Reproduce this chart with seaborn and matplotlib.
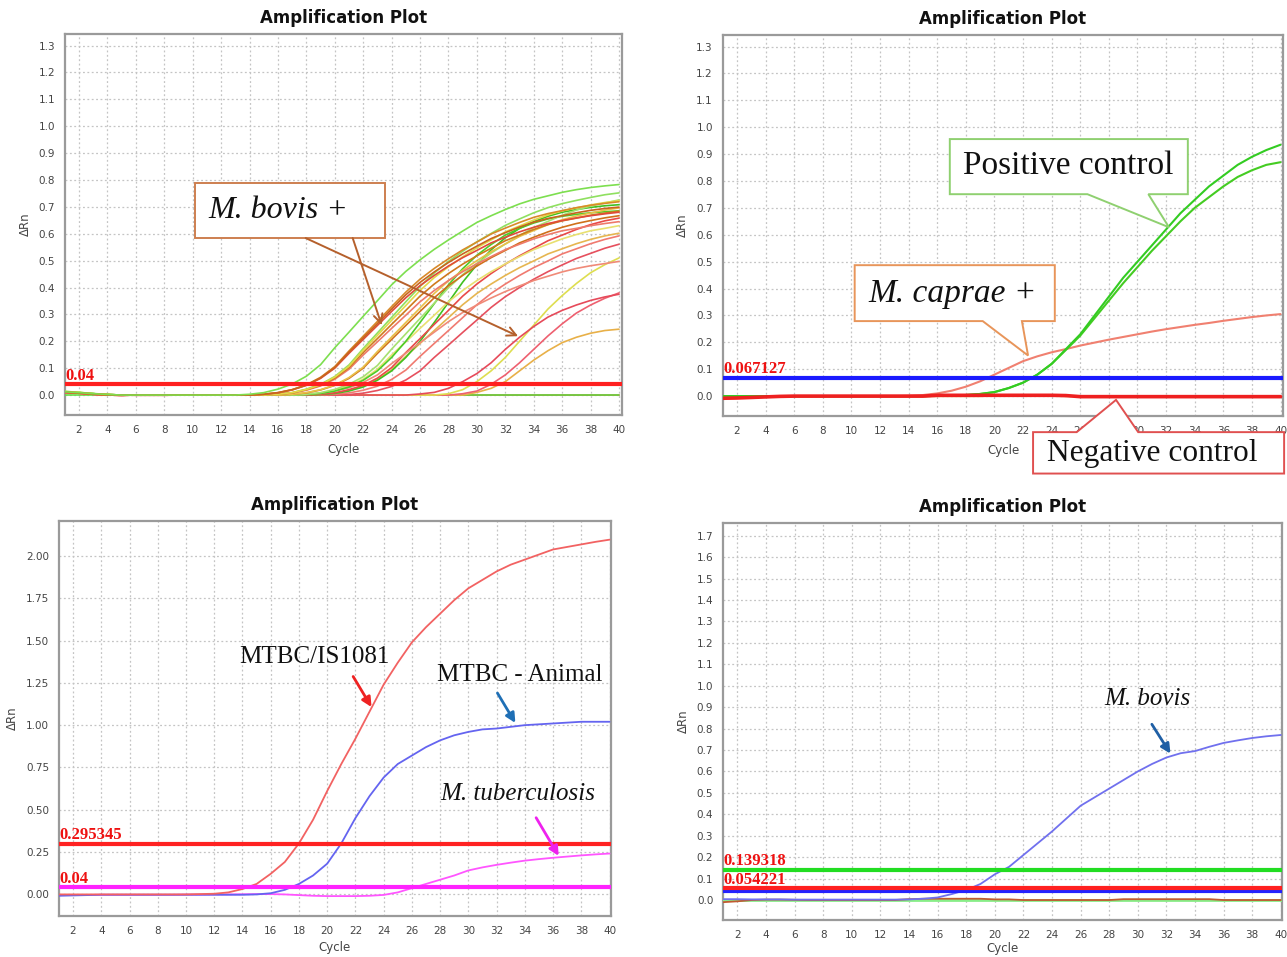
import matplotlib
matplotlib.use("Agg")
import matplotlib.pyplot as plt
from matplotlib.patches import Polygon, Rectangle
import pandas as pd
import seaborn as sns

sns.set_theme(style="whitegrid")
plt.rcParams['font.family'] = ['DejaVu Sans']
SERIF = ['Liberation Serif', 'DejaVu Serif']

cycles = list(range(1, 41))
x_ticks = [2, 4, 6, 8, 10, 12, 14, 16, 18, 20, 22, 24, 26, 28, 30, 32, 34, 36, 38, 40]
ab_yticks = [0.0, 0.1, 0.2, 0.3, 0.4, 0.5, 0.6, 0.7, 0.8, 0.9, 1.0, 1.1, 1.2, 1.3]
c_yticks = [0.0, 0.25, 0.5, 0.75, 1.0, 1.25, 1.5, 1.75, 2.0]
d_yticks = [0.0, 0.1, 0.2, 0.3, 0.4, 0.5, 0.6, 0.7, 0.8, 0.9, 1.0, 1.1, 1.2, 1.3, 1.4, 1.5, 1.6, 1.7]

# ---------------- Panel A : M. bovis + samples ----------------
a_g1 = [0.012, 0.009, 0.005, 0.002, 0.0, 0, 0, 0, 0, 0, 0, 0, 0,
        0.003, 0.009, 0.022, 0.041, 0.070, 0.113, 0.176, 0.234, 0.293, 0.351, 0.410, 0.460, 0.503, 0.542,
        0.577, 0.610, 0.642, 0.667, 0.690, 0.711, 0.728, 0.741, 0.754, 0.764, 0.772, 0.778, 0.783]
a_o1 = [0.011, 0.008, 0.004, 0.001, 0.0, 0, 0, 0, 0, 0, 0, 0, 0, 0,
        0.003, 0.009, 0.020, 0.037, 0.064, 0.103, 0.160, 0.213, 0.266, 0.320, 0.373, 0.419, 0.458,
        0.493, 0.525, 0.554, 0.582, 0.604, 0.625, 0.643, 0.657, 0.667, 0.678, 0.687, 0.694, 0.699]
a_o2 = [0.012, 0.008, 0.004, 0.001, 0.0, 0, 0, 0, 0, 0, 0, 0, 0, 0,
        0.003, 0.009, 0.020, 0.038, 0.066, 0.106, 0.164, 0.219, 0.274, 0.329, 0.383, 0.431, 0.471,
        0.507, 0.540, 0.569, 0.599, 0.621, 0.642, 0.661, 0.675, 0.686, 0.697, 0.706, 0.713, 0.719]
a_r1 = [0.010, 0.007, 0.003, 0.0, -0.001, 0, 0, 0, 0, 0, 0, 0, 0, 0,
        0.003, 0.008, 0.019, 0.036, 0.062, 0.100, 0.155, 0.207, 0.259, 0.311, 0.362, 0.407, 0.445,
        0.480, 0.511, 0.538, 0.566, 0.587, 0.607, 0.624, 0.638, 0.649, 0.659, 0.667, 0.674, 0.680]
a_y1 = [0.013, 0.010, 0.005, 0.002, 0.0, 0, 0, 0, 0, 0, 0, 0, 0, 0, 0,
        0.003, 0.009, 0.021, 0.038, 0.067, 0.107, 0.167, 0.222, 0.278, 0.333, 0.389, 0.437, 0.477,
        0.514, 0.548, 0.577, 0.607, 0.629, 0.651, 0.670, 0.685, 0.696, 0.707, 0.716, 0.723]
a_o3 = [0.011, 0.008, 0.004, 0.001, 0.0, 0, 0, 0, 0, 0, 0, 0, 0, 0, 0,
        0.003, 0.008, 0.020, 0.036, 0.063, 0.102, 0.158, 0.210, 0.263, 0.315, 0.368, 0.413, 0.452,
        0.487, 0.518, 0.546, 0.574, 0.595, 0.616, 0.634, 0.648, 0.658, 0.669, 0.677, 0.684]
a_g2 = [0.014, 0.010, 0.006, 0.002, 0.0, 0, 0, 0, 0, 0, 0, 0, 0, 0, 0,
        0.003, 0.009, 0.022, 0.040, 0.069, 0.112, 0.173, 0.231, 0.289, 0.347, 0.404, 0.454, 0.497,
        0.535, 0.570, 0.601, 0.631, 0.655, 0.678, 0.697, 0.712, 0.724, 0.735, 0.745, 0.752]
a_r2 = [0.010, 0.007, 0.003, 0.0, -0.001, 0, 0, 0, 0, 0, 0, 0, 0, 0, 0,
        0.003, 0.008, 0.018, 0.034, 0.059, 0.096, 0.149, 0.198, 0.248, 0.297, 0.347, 0.389, 0.426,
        0.459, 0.488, 0.515, 0.541, 0.561, 0.581, 0.597, 0.611, 0.620, 0.630, 0.638, 0.645]
a_y2 = [0.012, 0.009, 0.005, 0.002, 0.0, 0, 0, 0, 0, 0, 0, 0, 0, 0, 0, 0,
        0.003, 0.009, 0.020, 0.037, 0.065, 0.104, 0.162, 0.216, 0.270, 0.324, 0.378, 0.425, 0.464,
        0.500, 0.533, 0.562, 0.590, 0.612, 0.634, 0.652, 0.666, 0.677, 0.688, 0.696]
a_o4 = [0.011, 0.008, 0.004, 0.001, 0.0, 0, 0, 0, 0, 0, 0, 0, 0, 0, 0, 0,
        0.003, 0.008, 0.019, 0.036, 0.062, 0.100, 0.155, 0.207, 0.259, 0.311, 0.362, 0.407, 0.445,
        0.480, 0.511, 0.538, 0.566, 0.587, 0.607, 0.624, 0.638, 0.649, 0.659, 0.667]
a_g3 = [0.013, 0.010, 0.005, 0.002, 0.0, 0, 0, 0, 0, 0, 0, 0, 0, 0, 0, 0, 0,
        0.003, 0.009, 0.021, 0.040, 0.068, 0.110, 0.171, 0.228, 0.285, 0.342, 0.399, 0.448, 0.490,
        0.528, 0.562, 0.593, 0.623, 0.646, 0.669, 0.688, 0.703, 0.714, 0.726]
a_g4 = [0.012, 0.009, 0.005, 0.002, 0.0, 0, 0, 0, 0, 0, 0, 0, 0, 0, 0, 0, 0,
        0.002, 0.006, 0.015, 0.030, 0.055, 0.090, 0.140, 0.200, 0.270, 0.340, 0.410, 0.470, 0.520,
        0.560, 0.595, 0.620, 0.640, 0.655, 0.665, 0.672, 0.678, 0.682, 0.685]
a_y3 = [0.011, 0.008, 0.004, 0.001, 0.0, 0, 0, 0, 0, 0, 0, 0, 0, 0, 0, 0, 0,
        0.003, 0.008, 0.018, 0.034, 0.059, 0.096, 0.149, 0.198, 0.248, 0.297, 0.347, 0.389, 0.426,
        0.459, 0.488, 0.515, 0.541, 0.561, 0.581, 0.597, 0.611, 0.620, 0.630]
a_s1 = [0.010, 0.007, 0.003, 0.0, -0.001, 0, 0, 0, 0, 0, 0, 0, 0, 0, 0, 0, 0,
        0.002, 0.006, 0.015, 0.027, 0.047, 0.075, 0.117, 0.156, 0.195, 0.234, 0.273, 0.307, 0.335,
        0.361, 0.385, 0.406, 0.426, 0.442, 0.458, 0.471, 0.481, 0.489, 0.497]
a_r3 = [0.010, 0.007, 0.003, 0.0, -0.001, 0, 0, 0, 0, 0, 0, 0, 0, 0, 0, 0, 0, 0,
        0.003, 0.008, 0.020, 0.036, 0.063, 0.102, 0.158, 0.210, 0.263, 0.315, 0.368, 0.413, 0.452,
        0.487, 0.518, 0.546, 0.574, 0.595, 0.616, 0.634, 0.648, 0.658]
a_g5 = [0.012, 0.009, 0.005, 0.002, 0.0, 0, 0, 0, 0, 0, 0, 0, 0, 0, 0, 0, 0, 0,
        0.002, 0.006, 0.015, 0.030, 0.055, 0.090, 0.140, 0.200, 0.270, 0.345, 0.420, 0.485, 0.540,
        0.585, 0.620, 0.645, 0.665, 0.680, 0.690, 0.698, 0.704, 0.708]
a_y4 = [0.011, 0.008, 0.004, 0.001, 0.0, 0, 0, 0, 0, 0, 0, 0, 0, 0, 0, 0, 0, 0,
        0.003, 0.008, 0.018, 0.033, 0.058, 0.093, 0.144, 0.192, 0.240, 0.288, 0.336, 0.378, 0.413,
        0.445, 0.474, 0.499, 0.525, 0.544, 0.563, 0.579, 0.592, 0.602]
a_r4 = [0.010, 0.007, 0.003, 0.0, -0.001, 0, 0, 0, 0, 0, 0, 0, 0, 0, 0, 0, 0, 0, 0,
        0.003, 0.008, 0.018, 0.033, 0.058, 0.093, 0.144, 0.192, 0.240, 0.288, 0.336, 0.378, 0.413,
        0.445, 0.474, 0.499, 0.525, 0.544, 0.563, 0.579, 0.592]
a_r5 = [0.010, 0.007, 0.003, 0.0, -0.001, 0, 0, 0, 0, 0, 0, 0, 0, 0, 0, 0, 0, 0, 0, 0,
        0.002, 0.007, 0.017, 0.032, 0.056, 0.090, 0.140, 0.186, 0.233, 0.279, 0.326, 0.366, 0.400,
        0.431, 0.459, 0.484, 0.508, 0.527, 0.546, 0.561]
a_l1 = [0.010, 0.007, 0.004, 0.001, 0.0, 0, 0, 0, 0, 0, 0, 0, 0, 0, 0, 0, 0, 0, 0, 0, 0, 0, 0, 0, 0,
        0.004, 0.010, 0.025, 0.050, 0.080, 0.120, 0.170, 0.215, 0.255, 0.290, 0.315, 0.335, 0.352,
        0.365, 0.375]
a_l2 = [0.010, 0.007, 0.004, 0.001, 0.0, 0, 0, 0, 0, 0, 0, 0, 0, 0, 0, 0, 0, 0, 0, 0, 0, 0, 0, 0, 0, 0, 0,
        0.005, 0.020, 0.050, 0.090, 0.140, 0.200, 0.260, 0.320, 0.370, 0.415, 0.455, 0.485, 0.510]
a_l3 = [0.010, 0.007, 0.004, 0.001, 0.0, 0, 0, 0, 0, 0, 0, 0, 0, 0, 0, 0, 0, 0, 0, 0, 0, 0, 0, 0, 0, 0, 0, 0,
        0.005, 0.015, 0.040, 0.075, 0.120, 0.170, 0.220, 0.265, 0.305, 0.335, 0.360, 0.380]
a_l4 = [0.010, 0.007, 0.004, 0.001, 0.0, 0, 0, 0, 0, 0, 0, 0, 0, 0, 0, 0, 0, 0, 0, 0, 0, 0, 0, 0, 0, 0, 0, 0, 0,
        0.010, 0.025, 0.050, 0.090, 0.130, 0.165, 0.195, 0.215, 0.230, 0.240, 0.245]
a_flat_g = [0, 0, 0, 0, 0, 0, 0, 0, 0, 0, 0, 0, 0, 0, 0, 0, 0, 0, 0, 0,
            0, 0, 0, 0, 0, 0, 0, 0, 0, 0, 0, 0, 0, 0, 0, 0, 0, 0, 0, 0]
a_flat_r = [0.010, 0.008, 0.005, 0.002, 0.0, -0.001, -0.001, -0.001, 0, 0, 0, 0, 0, 0, 0, 0, 0, 0, 0, 0,
            0, 0, 0, 0, 0, 0, 0, 0, 0, 0, 0, 0, 0, 0, 0, 0, 0, 0, 0, 0]
a_threshold = 0.04

# ---------------- Panel B : M. caprae + and controls ----------------
b_pos1 = [0, 0, 0, 0, 0, 0, 0, 0, 0, 0, 0, 0, 0, 0, 0.0, 0.001, 0.002, 0.004, 0.008, 0.015,
          0.030, 0.050, 0.080, 0.120, 0.175, 0.230, 0.300, 0.370, 0.440, 0.500, 0.560, 0.620, 0.680,
          0.730, 0.780, 0.820, 0.860, 0.890, 0.915, 0.935]
b_pos2 = [0, 0, 0, 0, 0, 0, 0, 0, 0, 0, 0, 0, 0, 0, 0.0, 0.001, 0.002, 0.004, 0.008, 0.015,
          0.030, 0.050, 0.080, 0.120, 0.172, 0.225, 0.290, 0.355, 0.420, 0.480, 0.540, 0.595, 0.650,
          0.700, 0.740, 0.780, 0.815, 0.840, 0.860, 0.870]
b_caprae = [0, 0, 0, 0, 0, 0, 0, 0, 0, 0, 0, 0, 0, 0.001, 0.004, 0.010, 0.020, 0.035, 0.055, 0.080,
            0.105, 0.130, 0.148, 0.163, 0.175, 0.188, 0.199, 0.210, 0.220, 0.230, 0.240, 0.249, 0.257,
            0.265, 0.272, 0.280, 0.287, 0.294, 0.300, 0.305]
b_neg1 = [-0.008, -0.007, -0.005, -0.003, -0.001, 0, 0, 0, 0, 0, 0, 0, 0, 0, 0, 0.003, 0.003, 0.003,
          0.003, 0.003, 0.003, 0.003, 0.003, 0.003, 0.002, -0.002, -0.002, -0.002, -0.002, -0.002,
          -0.002, -0.002, -0.002, -0.002, -0.002, -0.002, -0.002, -0.002, -0.002, -0.002]
b_neg2 = [-0.004, -0.003, -0.002, -0.001, 0, 0, 0, 0, 0, 0, 0, 0, 0, 0, 0, 0, 0, 0, 0, 0.002,
          0.004, 0.004, 0.003, 0.001, 0, 0, 0, 0, 0, 0, 0, 0, 0, 0, 0, 0, 0, 0, 0, 0]
b_threshold = 0.067127

# ---------------- Panel C : MTBC / MTBC-Animal / M. tuberculosis ----------------
c_is1081 = [-0.002, -0.002, -0.002, -0.002, -0.002, -0.002, -0.002, -0.002, -0.002, -0.002, 0.0,
            0.002, 0.010, 0.030, 0.060, 0.120, 0.190, 0.300, 0.440, 0.610, 0.770, 0.920, 1.080,
            1.240, 1.370, 1.490, 1.580, 1.660, 1.740, 1.810, 1.860, 1.910, 1.950, 1.980, 2.010,
            2.040, 2.055, 2.070, 2.085, 2.098]
c_animal = [-0.010, -0.008, -0.006, -0.004, -0.004, -0.004, -0.004, -0.004, -0.004, -0.004, -0.004,
            -0.004, -0.004, -0.004, -0.002, 0.005, 0.025, 0.060, 0.110, 0.180, 0.300, 0.450, 0.580,
            0.690, 0.770, 0.820, 0.870, 0.910, 0.940, 0.960, 0.975, 0.980, 0.990, 1.000, 1.005,
            1.010, 1.015, 1.020, 1.020, 1.020]
c_tb = [-0.006, -0.005, -0.005, -0.004, -0.004, -0.004, -0.004, -0.004, -0.004, -0.003, -0.003,
        -0.002, -0.002, -0.001, 0.0, 0.0, -0.002, -0.006, -0.010, -0.012, -0.012, -0.012, -0.010,
        -0.005, 0.010, 0.035, 0.060, 0.085, 0.110, 0.140, 0.158, 0.173, 0.186, 0.198, 0.207,
        0.215, 0.222, 0.229, 0.235, 0.240]
c_threshold_hi = 0.295345
c_threshold_lo = 0.04

# ---------------- Panel D : M. bovis ----------------
d_bovis = [0.004, 0.004, 0.003, 0.003, 0.003, 0.002, 0.002, 0.002, 0.002, 0.002, 0.002, 0.002,
           0.002, 0.003, 0.006, 0.012, 0.028, 0.047, 0.075, 0.120, 0.155, 0.210, 0.265, 0.320,
           0.380, 0.440, 0.480, 0.520, 0.560, 0.600, 0.635, 0.665, 0.685, 0.695, 0.715, 0.733,
           0.745, 0.756, 0.764, 0.770]
d_flat_g = [0, 0, 0, 0, 0, 0, 0, 0, 0, 0, 0, 0, 0, 0, 0, 0, 0, 0, 0, 0,
            0, 0, 0, 0, 0, 0, 0, 0, 0, 0, 0, 0, 0, 0, 0, 0, 0, 0, 0, 0]
d_neg = [-0.010, -0.006, 0.0, 0.002, 0.002, 0.001, 0, 0, 0, 0, 0, 0, 0, 0.004, 0.006, 0.006,
         0.006, 0.006, 0.006, 0.003, 0.003, 0, 0, 0, 0, 0, 0, 0, 0.004, 0.004, 0.004, 0.004,
         0.004, 0.004, 0.004, 0, 0, 0, 0, 0]
d_threshold_g = 0.139318
d_threshold_r = 0.054221
d_threshold_b = 0.042


def long_frame(series):
    rows = []
    for name, vals, _ in series:
        if len(vals) != 40:
            print("length warning", name, len(vals))
        vals = list(vals)[-40:]
        xs = cycles[len(cycles) - len(vals):]
        rows += [(name, x, v) for x, v in zip(xs, vals)]
    return pd.DataFrame(rows, columns=["well", "Cycle", "dRn"])


def draw_curves(ax, series, lw):
    df = long_frame(series)
    pal = {n: c for n, _, c in series}
    sns.lineplot(data=df, x="Cycle", y="dRn", hue="well", hue_order=[n for n, _, _ in series],
                 palette=pal, legend=False, ax=ax, linewidth=lw, estimator=None, zorder=3)


def style(ax, xlim, ylim, yticks, fmt, xlabelpad=6):
    ax.set_facecolor("white")
    ax.set_xlim(*xlim)
    ax.set_ylim(*ylim)
    ax.set_xticks(x_ticks)
    ax.set_xticklabels([str(t) for t in x_ticks])
    ax.set_yticks(yticks)
    ax.set_yticklabels([fmt.format(t) for t in yticks])
    ax.grid(True, color="#c4c4c4", linestyle=(0, (1.5, 2.0)), linewidth=0.9)
    for s in ax.spines.values():
        s.set_visible(True)
        s.set_color("#9a9a9a")
        s.set_linewidth(1.6)
    ax.tick_params(axis="both", length=3, width=0.8, color="#888888", labelsize=7.5,
                   labelcolor="#444444", pad=4)
    ax.set_xlabel("Cycle", fontsize=8.5, color="#444444", labelpad=xlabelpad)
    ax.set_ylabel("ΔRn", fontsize=8.5, color="#444444", labelpad=5)
    ax.set_title("Amplification Plot", fontsize=12, fontweight="bold", pad=8, color="#111111")


def threshold(ax, y, color, label=None, lw=3.0):
    ax.axhline(y, color=color, lw=lw, zorder=4)
    if label:
        ax.annotate(label, xy=(1.0, y), xytext=(0.5, 0.5), textcoords="offset points",
                    color="#ee1111", fontsize=12, fontweight="bold", family=SERIF,
                    ha="left", va="bottom", zorder=6, annotation_clip=False)


def callout(ax, x0, x1, y0, y1, base, tip, ec, side="bottom"):
    if side == "bottom":
        verts = [(x0, y1), (x1, y1), (x1, y0), (base[1], y0), tip, (base[0], y0), (x0, y0)]
    else:
        verts = [(x0, y1), (base[0], y1), tip, (base[1], y1), (x1, y1), (x1, y0), (x0, y0)]
    ax.add_patch(Polygon(verts, closed=True, fc="white", ec=ec, lw=1.4, clip_on=False, zorder=7))


def label(ax, x, y, s, size, italic=False):
    ax.text(x, y, s, fontsize=size, family=SERIF, style="italic" if italic else "normal",
            ha="left", va="center", color="#111111", zorder=9, clip_on=False)


def arrow(ax, start, end, color, style="-|>", lw=2.0, ms=14):
    ax.annotate("", xy=end, xytext=start,
                arrowprops=dict(arrowstyle=style, color=color, lw=lw, shrinkA=0, shrinkB=0,
                                mutation_scale=ms), zorder=8, annotation_clip=False)


fig = plt.figure(figsize=(12.87, 9.57), dpi=100)
fig.patch.set_facecolor("white")

axA = fig.add_axes([0.0503, 0.5664, 0.4329, 0.3981])
axB = fig.add_axes([0.5615, 0.5653, 0.4357, 0.3981])
axC = fig.add_axes([0.0458, 0.0428, 0.4289, 0.4127])
axD = fig.add_axes([0.5618, 0.0387, 0.4340, 0.4148])

# ---- A ----
seriesA = [
    ("flat_r", a_flat_r, "#e03030"), ("flat_g", a_flat_g, "#66dd44"),
    ("l4", a_l4, "#e8b048"), ("l3", a_l3, "#ee6070"), ("l2", a_l2, "#dede50"), ("l1", a_l1, "#e64a5a"),
    ("r5", a_r5, "#e6505e"), ("r4", a_r4, "#f07a70"), ("y4", a_y4, "#e6b650"), ("g5", a_g5, "#40c020"),
    ("r3", a_r3, "#e84a48"), ("s1", a_s1, "#f08a78"), ("y3", a_y3, "#e8e070"), ("g4", a_g4, "#4ccc28"),
    ("g3", a_g3, "#a6e070"), ("o4", a_o4, "#d0701a"), ("y2", a_y2, "#e8c048"), ("r2", a_r2, "#ee7a6a"),
    ("g2", a_g2, "#8fe060"), ("o3", a_o3, "#cf7a1c"), ("y1", a_y1, "#e2d84a"), ("r1", a_r1, "#e04a3a"),
    ("o2", a_o2, "#d88a2a"), ("o1", a_o1, "#c8641e"), ("g1", a_g1, "#7ddf4f"),
]
draw_curves(axA, seriesA, 1.2)
style(axA, (1, 40.2), (-0.074, 1.343), ab_yticks, "{:.1f}")
threshold(axA, a_threshold, "#ff2020", "0.04")
axA.add_patch(Rectangle((10.2, 0.584), 13.3, 0.205, fc="white", ec="#cd7f50", lw=1.4, zorder=7))
label(axA, 11.1, 0.685, "M. bovis +", 23, italic=True)
arrow(axA, (17.95, 0.584), (32.9, 0.219), "#b5602c", style="->", lw=1.4, ms=16)
arrow(axA, (21.26, 0.584), (23.3, 0.26), "#b5602c", style="->", lw=1.4, ms=16)

# ---- B ----
seriesB = [("neg2", b_neg2, "#e0a030"), ("caprae", b_caprae, "#f08070"),
           ("pos2", b_pos2, "#44cc22"), ("pos1", b_pos1, "#33cc22")]
draw_curves(axB, seriesB, 1.5)
sns.lineplot(x=cycles, y=b_neg1, color="#ee2020", linewidth=2.6, ax=axB, zorder=4)
style(axB, (1, 40.2), (-0.074, 1.343), ab_yticks, "{:.1f}")
threshold(axB, b_threshold, "#1a1aff", "0.067127")
callout(axB, 16.88, 33.52, 0.751, 0.956, (26.5, 30.76), (32.2, 0.628), "#8fd070")
label(axB, 17.83, 0.856, "Positive control", 24)
callout(axB, 10.23, 24.22, 0.279, 0.487, (19.18, 21.92), (22.35, 0.151), "#e8955a")
label(axB, 11.2, 0.380, "M. caprae +", 24, italic=True)
callout(axB, 22.7, 40.25, -0.288, -0.134, (25.75, 30.05), (28.5, -0.014), "#e05050", side="top")
label(axB, 23.65, -0.213, "Negative control", 22.6)

# ---- C ----
seriesC = [("tb", c_tb, "#ff55ff"), ("animal", c_animal, "#6464f0"), ("is1081", c_is1081, "#f26262")]
draw_curves(axC, seriesC, 1.3)
style(axC, (1, 40.1), (-0.13, 2.208), c_yticks, "{:.2f}", xlabelpad=4)
threshold(axC, c_threshold_hi, "#ff2222", "0.295345")
threshold(axC, c_threshold_lo, "#ff22ff", "0.04")
label(axC, 13.8, 1.406, "MTBC/IS1081", 18)
label(axC, 27.8, 1.298, "MTBC - Animal", 18)
label(axC, 28.0, 0.590, "M. tuberculosis", 18, italic=True)
arrow(axC, (21.84, 1.288), (23.14, 1.107), "#ee2222")
arrow(axC, (32.06, 1.19), (33.33, 1.013), "#1f6fb5")
arrow(axC, (34.8, 0.452), (36.4, 0.226), "#ee22ee")

# ---- D ----
seriesD = [("neg", d_neg, "#c05a30"), ("bovis", d_bovis, "#7070ee")]
sns.lineplot(x=cycles, y=d_flat_g, color="#88ee88", linewidth=2.0, ax=axD, zorder=3)
draw_curves(axD, seriesD, 1.3)
style(axD, (1, 40.05), (-0.093, 1.759), d_yticks, "{:.1f}", xlabelpad=2)
threshold(axD, d_threshold_g, "#22dd22", "0.139318")
threshold(axD, d_threshold_b, "#2222ff")
threshold(axD, d_threshold_r, "#ff2020", "0.054221")
label(axD, 27.66, 0.936, "M. bovis", 18, italic=True)
arrow(axD, (30.98, 0.82), (32.28, 0.683), "#1f5fa5")

fig.savefig("out.png", dpi=100, facecolor="white")
